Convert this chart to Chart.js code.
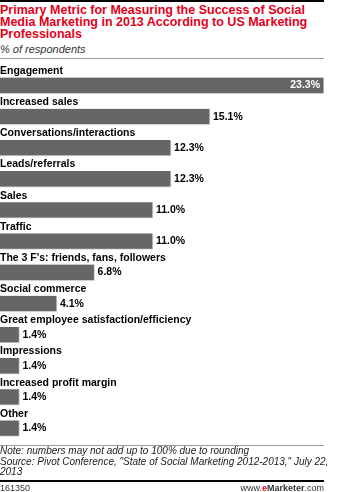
<!DOCTYPE html>
<html lang="en">
<head>
    <meta charset="UTF-8">
    <title>Primary Metric for Measuring the Success of Social Media Marketing</title>
    <script src="https://cdn.jsdelivr.net/npm/chart.js"></script>
    <style>
        body {
            margin: 0;
            width: 351px;
            height: 492px;
            position: relative;
            background: #fff;
            font-family: "Liberation Sans", Arial, sans-serif;
            overflow: hidden;
        }
        .rule { position: absolute; left: 0; width: 324px; }
        #title {
            position: absolute; left: 0; top: 5px;
            color: #e3001b; font-weight: bold; font-size: 12.5px; line-height: 11.8px;
        }
        #subtitle {
            position: absolute; left: 0; top: 43px;
            font-style: italic; font-size: 11px; color: #333;
        }
        #chart-box { position: absolute; left: 0; top: 60px; width: 351px; height: 386px; }
        #notes {
            position: absolute; left: 0; top: 446px; width: 330px;
            font-style: italic; font-size: 10px; line-height: 10.5px; color: #222;
        }
        #code { position: absolute; left: 0; top: 483px; font-size: 9px; color: #333; }
        #brand { position: absolute; right: 27px; top: 483px; font-size: 9px; color: #333; }
        #brand b.e { color: #e3001b; }
    </style>
</head>
<body>
<div class="rule" style="top:0;height:2px;background:#000;"></div>
<div id="title">Primary Metric for Measuring the Success of Social<br>Media Marketing in 2013 According to US Marketing<br>Professionals</div>
<div id="subtitle">% of respondents</div>
<div class="rule" style="top:58px;height:1px;background:#999;"></div>
<div id="chart-box">
    <canvas id="bars"></canvas>
</div>
<div class="rule" style="top:445px;height:1px;background:#999;"></div>
<div id="notes">Note: numbers may not add up to 100% due to rounding<br>Source: Pivot Conference, "State of Social Marketing 2012-2013," July 22,<br>2013</div>
<div class="rule" style="top:480px;height:2px;background:#000;"></div>
<div id="code">161350</div>
<div id="brand">www.<b class="e">e</b><b>Marketer</b>.com</div>

<script>
    const categories = [
        'Engagement',
        'Increased sales',
        'Conversations/interactions',
        'Leads/referrals',
        'Sales',
        'Traffic',
        "The 3 F's: friends, fans, followers",
        'Social commerce',
        'Great employee satisfaction/efficiency',
        'Impressions',
        'Increased profit margin',
        'Other'
    ];
    const shares = [23.3, 15.1, 12.3, 12.3, 11.0, 11.0, 6.8, 4.1, 1.4, 1.4, 1.4, 1.4];

    // labels above each bar, value at the end of it
    const barText = {
        id: 'barText',
        afterDatasetsDraw(chart) {
            const ctx = chart.ctx;
            const meta = chart.getDatasetMeta(0);
            const area = chart.chartArea;
            ctx.save();
            ctx.font = 'bold 10.5px "Liberation Sans", Arial, sans-serif';
            ctx.textBaseline = 'middle';
            meta.data.forEach((bar, i) => {
                const top = bar.y - bar.height / 2;
                ctx.fillStyle = '#000';
                ctx.textAlign = 'left';
                ctx.fillText(categories[i], area.left, top - 6.5);

                const txt = shares[i].toFixed(1) + '%';
                const w = ctx.measureText(txt).width;
                if (bar.x + 4 + w > chart.width) {
                    ctx.fillStyle = '#fff';
                    ctx.textAlign = 'right';
                    ctx.fillText(txt, bar.x - 4, bar.y);
                } else {
                    ctx.fillStyle = '#000';
                    ctx.textAlign = 'left';
                    ctx.fillText(txt, bar.x + 3, bar.y);
                }
            });
            ctx.restore();
        }
    };

    const elem = document.getElementById('bars').getContext('2d');
    const chart = new Chart(elem, {
        type: 'bar',
        data: {
            labels: categories,
            datasets: [{
                data: shares,
                backgroundColor: '#666666',
                borderColor: '#cfcfcf',
                borderWidth: {top: 0, left: 0, right: 1, bottom: 1},
                borderSkipped: false,
                barThickness: 16
            }]
        },
        options: {
            indexAxis: 'y',
            responsive: true,
            maintainAspectRatio: false,
            animation: false,
            layout: {padding: {left: 0, right: 27, top: 10, bottom: 2}},
            scales: {
                x: {display: false, min: 0, max: 23.3},
                y: {display: false, offset: true}
            },
            plugins: {
                legend: {display: false},
                tooltip: {enabled: false}
            }
        },
        plugins: [barText]
    });
</script>
</body>
</html>
